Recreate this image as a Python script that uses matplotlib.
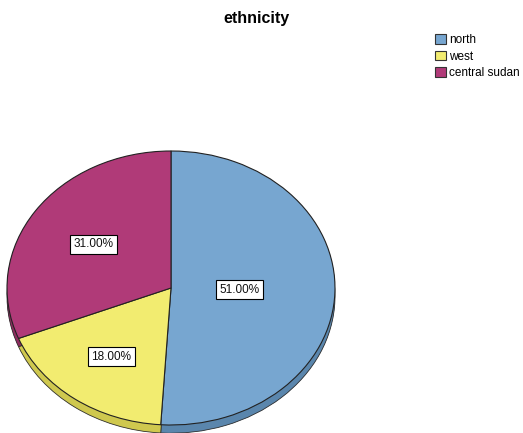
import matplotlib
matplotlib.use('Agg')
import matplotlib.pyplot as plt
from matplotlib.patches import Patch
import numpy as np

plt.rcParams['font.family'] = ['Liberation Sans', 'DejaVu Sans']

categories = ['north', 'west', 'central sudan']
percents = [51.0, 18.0, 31.0]
colors = ['#77a6d0', '#f2ec70', '#b03a78']
side_colors = ['#5a86ad', '#cfc84e', '#8e2c5f']
label_dist = [0.42, 0.62, 0.57]

W, H = 523, 433
fig = plt.figure(figsize=(W / 100, H / 100), dpi=100)
fig.patch.set_facecolor('white')

# pie ellipse: centre (171, 288) px, semi-axes 164 x 137 px
a, b = 164, 137
cx, cy = 171, H - 288
ylo, yhi = -1.06, 1.0
ax = fig.add_axes([(cx - a) / W, (cy + ylo * b) / H, 2 * a / W, (yhi - ylo) * b / H])
ax.axis('off')

# 3D side wall: stack of darker pies shifted down
depth = 0.06
for d in np.linspace(depth, 0.005, 12):
    ax.pie(percents, colors=side_colors, startangle=90, counterclock=False,
           center=(0, -d), radius=1, wedgeprops=dict(linewidth=0))
ax.pie(percents, colors=side_colors, startangle=90, counterclock=False,
       center=(0, -depth), radius=1, wedgeprops=dict(linewidth=0.6, edgecolor='#333333'))
ax.pie(percents, colors=colors, startangle=90, counterclock=False,
       radius=1, wedgeprops=dict(linewidth=0.8, edgecolor='#222222'))
ax.set_xlim(-1, 1)
ax.set_ylim(ylo, yhi)
ax.set_aspect('auto')

# boxed percentage labels
start = 90.0
for p, r in zip(percents, label_dist):
    span = p / 100 * 360
    mid = np.deg2rad(start - span / 2)
    ax.text(r * np.cos(mid), r * np.sin(mid), f'{p:.2f}%', ha='center', va='center',
            fontsize=8.5, color='#111111',
            bbox=dict(boxstyle='square,pad=0.3', facecolor='white', edgecolor='black', linewidth=0.8))
    start -= span

fig.text(256 / W, 1 - 18 / H, 'ethnicity', ha='center', va='center',
         fontsize=11.5, fontweight='bold')

handles = [Patch(facecolor=c, edgecolor='#333333', linewidth=0.8) for c in colors]
fig.legend(handles, categories, loc='upper left', bbox_to_anchor=(429 / W, 1 - 28 / H),
           frameon=False, fontsize=8.5, handlelength=0.9, handleheight=0.9,
           handletextpad=0.3, labelspacing=0.4, borderpad=0)

fig.savefig('out.png', dpi=100)
